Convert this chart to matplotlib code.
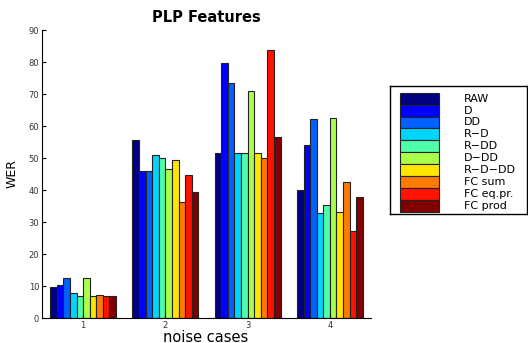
import numpy as np
import matplotlib
matplotlib.use("Agg")
import matplotlib.pyplot as plt
from matplotlib.patches import Rectangle

# WER per noise case, one list per feature set
cases = [1, 2, 3, 4]
labels = ['RAW', 'D', 'DD', 'R\u2212D', 'R\u2212DD', 'D\u2212DD', 'R\u2212D\u2212DD',
          'FC sum', 'FC eq.pr.', 'FC prod']
wer_raw = [9.6, 55.5, 51.6, 39.9]
wer_d = [10.4, 46.0, 79.7, 54.0]
wer_dd = [12.4, 46.0, 73.5, 62.1]
wer_rd = [7.8, 50.9, 51.5, 32.7]
wer_rdd = [7.0, 50.1, 51.7, 35.4]
wer_ddd = [12.4, 46.6, 70.9, 62.4]
wer_rddd = [7.0, 49.3, 51.7, 33.0]
wer_fc_sum = [7.1, 36.1, 50.1, 42.4]
wer_fc_eq = [6.8, 44.8, 83.6, 27.3]
wer_fc_prod = [7.0, 39.3, 56.5, 37.9]

series = [wer_raw, wer_d, wer_dd, wer_rd, wer_rdd, wer_ddd, wer_rddd,
          wer_fc_sum, wer_fc_eq, wer_fc_prod]
colors = plt.cm.jet(np.linspace(0, 1, len(series)))

fig = plt.figure(figsize=(5.28, 3.43), dpi=100)
ax = fig.add_axes([42 / 528, 25 / 343, 329 / 528, 288 / 343])

n = len(series)
w = 0.8 / n
x = np.array(cases, dtype=float)
for i, (vals, lab) in enumerate(zip(series, labels)):
    off = (i - (n - 1) / 2) * w
    ax.bar(x + off, vals, width=w, color=colors[i], edgecolor='#222222',
           linewidth=0.8, label=lab)

ax.set_xlim(0.5, 4.5)
ax.set_ylim(0, 90)
ax.set_xticks(cases)
ax.set_yticks(range(0, 91, 10))
ax.tick_params(direction='in', length=3, labelsize=6, width=0.8, pad=2,
               labelcolor='#333333')
for s in ['top', 'right']:
    ax.spines[s].set_visible(False)
for s in ['left', 'bottom']:
    ax.spines[s].set_linewidth(0.8)

ax.set_title('PLP Features', fontsize=10.5, fontweight='bold', pad=6)
ax.set_ylabel('WER', fontsize=9, labelpad=7)
fig.text(206 / 528, 1.5 / 343, 'noise cases', fontsize=10.5,
         ha='center', va='baseline')

# legend box drawn by hand (MATLAB style: stacked swatches)
lax = fig.add_axes([390 / 528, (343 - 214) / 343, 137 / 528, 128 / 343])
lax.set_xlim(0, 137)
lax.set_ylim(128, 0)
lax.set_xticks([])
lax.set_yticks([])
for s in lax.spines.values():
    s.set_linewidth(1.0)
row_h = 11.9
for i, lab in enumerate(labels):
    y0 = 6.7 + i * row_h
    lax.add_patch(Rectangle((10, y0), 39, row_h, facecolor=colors[i],
                            edgecolor='#222222', linewidth=0.8))
    lax.text(74, y0 + row_h / 2, lab, fontsize=8, va='center', ha='left')

fig.savefig('out.png', dpi=100)
